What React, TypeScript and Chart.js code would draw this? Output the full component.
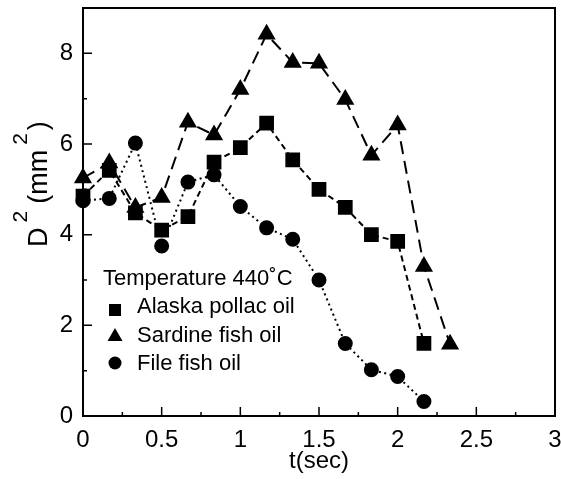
import React, { useEffect, useRef } from "react";
import { Chart, registerables } from "chart.js";

Chart.register(...registerables);

const tValues = [0, 0.167, 0.333, 0.5, 0.667, 0.833, 1.0, 1.167, 1.333, 1.5, 1.667, 1.833, 2.0, 2.167, 2.333];
const alaska = [4.85, 5.42, 4.48, 4.1, 4.4, 5.6, 5.92, 6.46, 5.65, 5.0, 4.6, 4.0, 3.85, 1.6];
const sardine = [5.25, 5.58, 4.6, 4.82, 6.48, 6.2, 7.2, 8.42, 7.8, 7.78, 6.98, 5.75, 6.42, 3.3, 1.58];
const filefish = [4.75, 4.8, 6.02, 3.75, 5.16, 5.32, 4.62, 4.15, 3.9, 3.0, 1.6, 1.02, 0.87, 0.32];

const xTicks = [0, 0.5, 1, 1.5, 2, 2.5, 3];
const yTicks = [0, 2, 4, 6, 8];
const xMinor = [0.25, 0.75, 1.25, 1.75, 2.25, 2.75];
const yMinor = [1, 3, 5, 7];

const legendTitle = "Temperature 440˚C";
const labels = ["Alaska pollac oil", "Sardine fish oil", "File fish oil"];
const FONT = "'Liberation Sans', Arial, Helvetica, sans-serif";

const toPts = (ys: number[]) => ys.map((y, i) => ({ x: tValues[i], y }));

const framePlugin = {
  id: "frame",
  afterDraw(chart: any) {
    const { ctx, chartArea: a, scales } = chart;
    const xs = scales.x;
    const ys = scales.y;
    ctx.save();
    ctx.strokeStyle = "#000";
    ctx.lineWidth = 2;
    ctx.strokeRect(a.left, a.top, a.right - a.left, a.bottom - a.top);
    ctx.lineWidth = 1.5;
    ctx.beginPath();
    xTicks.forEach((v) => {
      const p = xs.getPixelForValue(v);
      ctx.moveTo(p, a.bottom);
      ctx.lineTo(p, a.bottom - 9);
    });
    xMinor.forEach((v) => {
      const p = xs.getPixelForValue(v);
      ctx.moveTo(p, a.bottom);
      ctx.lineTo(p, a.bottom - 4);
    });
    yTicks.forEach((v) => {
      const p = ys.getPixelForValue(v);
      ctx.moveTo(a.left, p);
      ctx.lineTo(a.left + 9, p);
    });
    yMinor.forEach((v) => {
      const p = ys.getPixelForValue(v);
      ctx.moveTo(a.left, p);
      ctx.lineTo(a.left + 4, p);
    });
    ctx.stroke();

    // X title
    ctx.fillStyle = "#000";
    ctx.font = `24px ${FONT}`;
    ctx.textAlign = "center";
    ctx.textBaseline = "alphabetic";
    ctx.fillText("t(sec)", (a.left + a.right) / 2, 468);

    // Y title with superscripts, rotated (reads bottom to top)
    const parts: [string, boolean, number][] = [
      ["D", false, 5],
      ["2", true, 7],
      ["(mm", false, 5],
      ["2", true, 3],
      [")", false, 0],
    ];
    const main = `27px ${FONT}`;
    const sup = `21px ${FONT}`;
    let along = 0;
    parts.forEach(([txt, isSup, gap]) => {
      ctx.save();
      ctx.font = isSup ? sup : main;
      const w = ctx.measureText(txt).width;
      const baseX = isSup ? 27 : 47;
      ctx.translate(baseX, 247 - along);
      ctx.rotate(-Math.PI / 2);
      ctx.textAlign = "left";
      ctx.textBaseline = "alphabetic";
      ctx.fillText(txt, 0, 0);
      ctx.restore();
      along += w + gap;
    });

    // Legend
    ctx.font = `22px ${FONT}`;
    ctx.textAlign = "left";
    ctx.textBaseline = "alphabetic";
    ctx.fillText(legendTitle, 103, 285);
    const rows = [313, 342, 370];
    labels.forEach((lab, i) => {
      ctx.fillText(lab, 137, rows[i]);
    });
    const mx = 115;
    ctx.fillRect(mx - 6, 304, 12, 12);
    ctx.beginPath();
    ctx.moveTo(mx, 328);
    ctx.lineTo(mx + 7.5, 341);
    ctx.lineTo(mx - 7.5, 341);
    ctx.closePath();
    ctx.fill();
    ctx.beginPath();
    ctx.arc(mx, 363, 6.5, 0, Math.PI * 2);
    ctx.fill();
    ctx.restore();
  },
};

export default function App() {
  const ref = useRef<HTMLCanvasElement | null>(null);
  useEffect(() => {
    document.body.style.margin = "0";
    const canvas = ref.current;
    if (!canvas) return;
    const common = {
      showLine: true,
      borderColor: "#000",
      backgroundColor: "#000",
      pointBackgroundColor: "#000",
      pointBorderColor: "#000",
      borderWidth: 2,
      fill: false,
      tension: 0,
      clip: false,
    };
    const chart = new Chart(canvas, {
      type: "scatter",
      data: {
        datasets: [
          { ...common, label: labels[0], data: toPts(alaska), pointStyle: "rect", pointRadius: 9, borderDash: [6, 4] },
          { ...common, label: labels[1], data: toPts(sardine), pointStyle: "triangle", pointRadius: 8.5, borderDash: [13, 7] },
          { ...common, label: labels[2], data: toPts(filefish), pointStyle: "circle", pointRadius: 6.5, borderDash: [2, 3.5] },
        ],
      },
      options: {
        responsive: false,
        animation: false,
        layout: { autoPadding: false, padding: { top: 8, right: 6, left: 0, bottom: 0 } },
        plugins: { legend: { display: false }, tooltip: { enabled: false } },
        scales: {
          x: {
            type: "linear",
            min: 0,
            max: 3,
            grid: { display: false, drawTicks: false },
            border: { display: false },
            afterBuildTicks: (s: any) => {
              s.ticks = xTicks.map((v) => ({ value: v }));
            },
            afterFit: (s: any) => {
              s.height = 63;
              s.paddingLeft = 0;
              s.paddingRight = 0;
            },
            ticks: {
              color: "#000",
              padding: 10,
              maxRotation: 0,
              autoSkip: false,
              font: { family: FONT, size: 24 },
              callback: (v: any) => String(v),
            },
          },
          y: {
            type: "linear",
            min: 0,
            max: 9,
            grid: { display: false, drawTicks: false },
            border: { display: false },
            afterBuildTicks: (s: any) => {
              s.ticks = yTicks.map((v) => ({ value: v }));
            },
            afterFit: (s: any) => {
              s.width = 83;
              s.paddingTop = 0;
              s.paddingBottom = 0;
            },
            ticks: {
              color: "#000",
              padding: 10,
              autoSkip: false,
              font: { family: FONT, size: 24 },
              callback: (v: any) => String(v),
            },
          },
        },
      },
      plugins: [framePlugin],
    });
    return () => chart.destroy();
  }, []);
  return (
    <div style={{ width: 561, height: 479 }}>
      <canvas ref={ref} width={561} height={479} style={{ display: "block" }} />
    </div>
  );
}
